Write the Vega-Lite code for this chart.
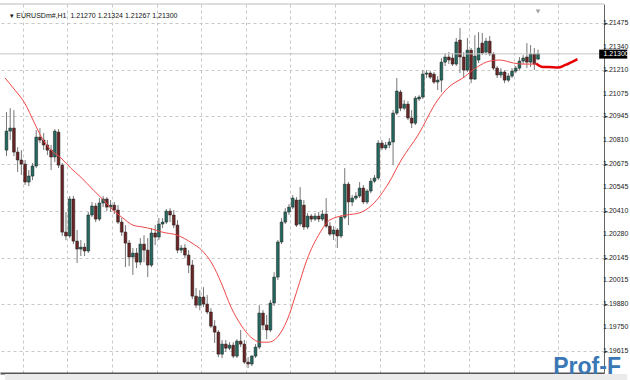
{
"$schema": "https://vega.github.io/schema/vega-lite/v6.json",
"width": 604, "height": 369,
"autosize": {"type": "none"},
"padding": {"top": 4, "left": 0, "right": 26, "bottom": 7},
"background": "#ffffff",
"config": {"view": {"stroke": null}, "font": "Liberation Sans"},
"datasets": {
"candles": [
{"t":0,"o":1.20754,"h":1.20970,"l":1.20720,"c":1.20862},
{"t":1,"o":1.20862,"h":1.20992,"l":1.20811,"c":1.20879},
{"t":2,"o":1.20879,"h":1.20981,"l":1.20720,"c":1.20743},
{"t":3,"o":1.20743,"h":1.20771,"l":1.20630,"c":1.20698},
{"t":4,"o":1.20698,"h":1.20754,"l":1.20613,"c":1.20675},
{"t":5,"o":1.20675,"h":1.20698,"l":1.20556,"c":1.20573},
{"t":6,"o":1.20573,"h":1.20641,"l":1.20550,"c":1.20607},
{"t":7,"o":1.20607,"h":1.20681,"l":1.20584,"c":1.20664},
{"t":8,"o":1.20664,"h":1.20868,"l":1.20652,"c":1.20828},
{"t":9,"o":1.20828,"h":1.20879,"l":1.20794,"c":1.20811},
{"t":10,"o":1.20811,"h":1.20851,"l":1.20754,"c":1.20783},
{"t":11,"o":1.20783,"h":1.20811,"l":1.20726,"c":1.20754},
{"t":12,"o":1.20754,"h":1.20783,"l":1.20641,"c":1.20715},
{"t":13,"o":1.20715,"h":1.20873,"l":1.20686,"c":1.20862},
{"t":14,"o":1.20856,"h":1.20873,"l":1.20652,"c":1.20669},
{"t":15,"o":1.20669,"h":1.20681,"l":1.20267,"c":1.20289},
{"t":16,"o":1.20289,"h":1.20403,"l":1.20244,"c":1.20267},
{"t":17,"o":1.20267,"h":1.20494,"l":1.20255,"c":1.20477},
{"t":18,"o":1.20477,"h":1.20494,"l":1.20221,"c":1.20238},
{"t":19,"o":1.20238,"h":1.20301,"l":1.20114,"c":1.20193},
{"t":20,"o":1.20193,"h":1.20244,"l":1.20153,"c":1.20204},
{"t":21,"o":1.20204,"h":1.20227,"l":1.20153,"c":1.20182},
{"t":22,"o":1.20182,"h":1.20403,"l":1.20170,"c":1.20386},
{"t":23,"o":1.20386,"h":1.20460,"l":1.20374,"c":1.20437},
{"t":24,"o":1.20437,"h":1.20454,"l":1.20346,"c":1.20363},
{"t":25,"o":1.20363,"h":1.20482,"l":1.20352,"c":1.20454},
{"t":26,"o":1.20454,"h":1.20494,"l":1.20431,"c":1.20477},
{"t":27,"o":1.20477,"h":1.20488,"l":1.20408,"c":1.20431},
{"t":28,"o":1.20431,"h":1.20471,"l":1.20403,"c":1.20442},
{"t":29,"o":1.20442,"h":1.20460,"l":1.20391,"c":1.20414},
{"t":30,"o":1.20414,"h":1.20442,"l":1.20335,"c":1.20346},
{"t":31,"o":1.20346,"h":1.20369,"l":1.20267,"c":1.20289},
{"t":32,"o":1.20289,"h":1.20329,"l":1.20091,"c":1.20227},
{"t":33,"o":1.20227,"h":1.20244,"l":1.20096,"c":1.20148},
{"t":34,"o":1.20148,"h":1.20199,"l":1.20046,"c":1.20170},
{"t":35,"o":1.20170,"h":1.20199,"l":1.20085,"c":1.20119},
{"t":36,"o":1.20119,"h":1.20255,"l":1.20102,"c":1.20221},
{"t":37,"o":1.20221,"h":1.20272,"l":1.20119,"c":1.20187},
{"t":38,"o":1.20187,"h":1.20255,"l":1.20034,"c":1.20102},
{"t":39,"o":1.20102,"h":1.20312,"l":1.20091,"c":1.20284},
{"t":40,"o":1.20284,"h":1.20329,"l":1.20216,"c":1.20261},
{"t":41,"o":1.20261,"h":1.20369,"l":1.20244,"c":1.20335},
{"t":42,"o":1.20335,"h":1.20369,"l":1.20312,"c":1.20346},
{"t":43,"o":1.20346,"h":1.20420,"l":1.20335,"c":1.20408},
{"t":44,"o":1.20408,"h":1.20425,"l":1.20346,"c":1.20386},
{"t":45,"o":1.20386,"h":1.20414,"l":1.20312,"c":1.20329},
{"t":46,"o":1.20329,"h":1.20357,"l":1.20170,"c":1.20187},
{"t":47,"o":1.20187,"h":1.20216,"l":1.20170,"c":1.20199},
{"t":48,"o":1.20199,"h":1.20221,"l":1.20142,"c":1.20159},
{"t":49,"o":1.20159,"h":1.20187,"l":1.20057,"c":1.20102},
{"t":50,"o":1.20102,"h":1.20131,"l":1.19909,"c":1.19926},
{"t":51,"o":1.19926,"h":1.19972,"l":1.19858,"c":1.19875},
{"t":52,"o":1.19875,"h":1.19960,"l":1.19847,"c":1.19921},
{"t":53,"o":1.19921,"h":1.19977,"l":1.19864,"c":1.19881},
{"t":54,"o":1.19881,"h":1.19932,"l":1.19824,"c":1.19836},
{"t":55,"o":1.19836,"h":1.19858,"l":1.19745,"c":1.19756},
{"t":56,"o":1.19756,"h":1.19790,"l":1.19660,"c":1.19722},
{"t":57,"o":1.19722,"h":1.19734,"l":1.19580,"c":1.19597},
{"t":58,"o":1.19597,"h":1.19677,"l":1.19575,"c":1.19654},
{"t":59,"o":1.19654,"h":1.19677,"l":1.19609,"c":1.19631},
{"t":60,"o":1.19631,"h":1.19665,"l":1.19620,"c":1.19648},
{"t":61,"o":1.19648,"h":1.19665,"l":1.19575,"c":1.19586},
{"t":62,"o":1.19586,"h":1.19682,"l":1.19575,"c":1.19671},
{"t":63,"o":1.19671,"h":1.19734,"l":1.19637,"c":1.19654},
{"t":64,"o":1.19654,"h":1.19677,"l":1.19541,"c":1.19552},
{"t":65,"o":1.19552,"h":1.19580,"l":1.19518,"c":1.19541},
{"t":66,"o":1.19541,"h":1.19592,"l":1.19529,"c":1.19586},
{"t":67,"o":1.19586,"h":1.19654,"l":1.19575,"c":1.19637},
{"t":68,"o":1.19637,"h":1.19875,"l":1.19626,"c":1.19830},
{"t":69,"o":1.19830,"h":1.19847,"l":1.19734,"c":1.19762},
{"t":70,"o":1.19762,"h":1.19819,"l":1.19682,"c":1.19734},
{"t":71,"o":1.19734,"h":1.19904,"l":1.19722,"c":1.19887},
{"t":72,"o":1.19887,"h":1.20062,"l":1.19870,"c":1.20034},
{"t":73,"o":1.20034,"h":1.20244,"l":1.20017,"c":1.20233},
{"t":74,"o":1.20233,"h":1.20369,"l":1.20221,"c":1.20346},
{"t":75,"o":1.20346,"h":1.20425,"l":1.20335,"c":1.20403},
{"t":76,"o":1.20403,"h":1.20448,"l":1.20386,"c":1.20431},
{"t":77,"o":1.20431,"h":1.20499,"l":1.20420,"c":1.20482},
{"t":78,"o":1.20471,"h":1.20488,"l":1.20318,"c":1.20329},
{"t":79,"o":1.20335,"h":1.20544,"l":1.20323,"c":1.20471},
{"t":80,"o":1.20442,"h":1.20471,"l":1.20301,"c":1.20318},
{"t":81,"o":1.20318,"h":1.20397,"l":1.20306,"c":1.20380},
{"t":82,"o":1.20380,"h":1.20391,"l":1.20346,"c":1.20363},
{"t":83,"o":1.20363,"h":1.20397,"l":1.20352,"c":1.20380},
{"t":84,"o":1.20380,"h":1.20403,"l":1.20346,"c":1.20363},
{"t":85,"o":1.20363,"h":1.20414,"l":1.20352,"c":1.20391},
{"t":86,"o":1.20391,"h":1.20482,"l":1.20312,"c":1.20323},
{"t":87,"o":1.20323,"h":1.20346,"l":1.20267,"c":1.20278},
{"t":88,"o":1.20278,"h":1.20323,"l":1.20244,"c":1.20301},
{"t":89,"o":1.20301,"h":1.20312,"l":1.20199,"c":1.20267},
{"t":90,"o":1.20267,"h":1.20386,"l":1.20255,"c":1.20374},
{"t":91,"o":1.20374,"h":1.20652,"l":1.20363,"c":1.20561},
{"t":92,"o":1.20561,"h":1.20573,"l":1.20329,"c":1.20460},
{"t":93,"o":1.20460,"h":1.20499,"l":1.20437,"c":1.20482},
{"t":94,"o":1.20482,"h":1.20516,"l":1.20471,"c":1.20494},
{"t":95,"o":1.20494,"h":1.20573,"l":1.20482,"c":1.20539},
{"t":96,"o":1.20539,"h":1.20556,"l":1.20448,"c":1.20460},
{"t":97,"o":1.20460,"h":1.20533,"l":1.20448,"c":1.20522},
{"t":98,"o":1.20522,"h":1.20596,"l":1.20510,"c":1.20578},
{"t":99,"o":1.20578,"h":1.20613,"l":1.20567,"c":1.20596},
{"t":100,"o":1.20596,"h":1.20811,"l":1.20584,"c":1.20794},
{"t":101,"o":1.20794,"h":1.20811,"l":1.20754,"c":1.20766},
{"t":102,"o":1.20766,"h":1.20800,"l":1.20754,"c":1.20783},
{"t":103,"o":1.20783,"h":1.20822,"l":1.20766,"c":1.20800},
{"t":104,"o":1.20800,"h":1.20981,"l":1.20669,"c":1.20964},
{"t":105,"o":1.20964,"h":1.21163,"l":1.20953,"c":1.21089},
{"t":106,"o":1.21083,"h":1.21095,"l":1.20975,"c":1.20992},
{"t":107,"o":1.20992,"h":1.21038,"l":1.20981,"c":1.21015},
{"t":108,"o":1.21015,"h":1.21032,"l":1.20924,"c":1.20936},
{"t":109,"o":1.20936,"h":1.20981,"l":1.20879,"c":1.20907},
{"t":110,"o":1.20907,"h":1.21061,"l":1.20896,"c":1.21049},
{"t":111,"o":1.21044,"h":1.21066,"l":1.21032,"c":1.21055},
{"t":112,"o":1.21055,"h":1.21208,"l":1.21044,"c":1.21185},
{"t":113,"o":1.21185,"h":1.21208,"l":1.21163,"c":1.21191},
{"t":114,"o":1.21191,"h":1.21202,"l":1.21157,"c":1.21168},
{"t":115,"o":1.21185,"h":1.21197,"l":1.21129,"c":1.21140},
{"t":116,"o":1.21140,"h":1.21174,"l":1.21095,"c":1.21151},
{"t":117,"o":1.21151,"h":1.21276,"l":1.21083,"c":1.21253},
{"t":118,"o":1.21253,"h":1.21304,"l":1.21231,"c":1.21282},
{"t":119,"o":1.21282,"h":1.21310,"l":1.21242,"c":1.21265},
{"t":120,"o":1.21276,"h":1.21304,"l":1.21231,"c":1.21242},
{"t":121,"o":1.21242,"h":1.21390,"l":1.21231,"c":1.21367},
{"t":122,"o":1.21378,"h":1.21446,"l":1.21191,"c":1.21282},
{"t":123,"o":1.21282,"h":1.21310,"l":1.21163,"c":1.21208},
{"t":124,"o":1.21208,"h":1.21390,"l":1.21197,"c":1.21321},
{"t":125,"o":1.21321,"h":1.21333,"l":1.21134,"c":1.21157},
{"t":126,"o":1.21157,"h":1.21406,"l":1.21151,"c":1.21287},
{"t":127,"o":1.21265,"h":1.21423,"l":1.21248,"c":1.21333},
{"t":128,"o":1.21361,"h":1.21418,"l":1.21293,"c":1.21304},
{"t":129,"o":1.21310,"h":1.21390,"l":1.21293,"c":1.21372},
{"t":130,"o":1.21372,"h":1.21401,"l":1.21287,"c":1.21299},
{"t":131,"o":1.21299,"h":1.21310,"l":1.21208,"c":1.21219},
{"t":132,"o":1.21219,"h":1.21231,"l":1.21163,"c":1.21180},
{"t":133,"o":1.21180,"h":1.21219,"l":1.21163,"c":1.21197},
{"t":134,"o":1.21197,"h":1.21208,"l":1.21134,"c":1.21151},
{"t":135,"o":1.21151,"h":1.21191,"l":1.21140,"c":1.21174},
{"t":136,"o":1.21174,"h":1.21219,"l":1.21163,"c":1.21202},
{"t":137,"o":1.21202,"h":1.21231,"l":1.21191,"c":1.21219},
{"t":138,"o":1.21219,"h":1.21282,"l":1.21208,"c":1.21259},
{"t":139,"o":1.21259,"h":1.21293,"l":1.21242,"c":1.21276},
{"t":140,"o":1.21282,"h":1.21361,"l":1.21219,"c":1.21253},
{"t":141,"o":1.21253,"h":1.21350,"l":1.21225,"c":1.21299},
{"t":142,"o":1.21299,"h":1.21333,"l":1.21208,"c":1.21242},
{"t":143,"o":1.21270,"h":1.21324,"l":1.21267,"c":1.21300}
],
"ma": [
{"t":-0.4,"v":1.21163},{"t":2.25,"v":1.21095},{"t":4.9,"v":1.21021},{"t":7.54,"v":1.20907},
{"t":9.4,"v":1.20828},{"t":12.0,"v":1.20754},{"t":14.7,"v":1.20709},{"t":17.3,"v":1.20652},
{"t":20.0,"v":1.20601},{"t":23.4,"v":1.20527},{"t":26.1,"v":1.20471},{"t":28.7,"v":1.20414},
{"t":31.3,"v":1.20369},{"t":34.0,"v":1.20329},{"t":36.6,"v":1.20318},{"t":39.3,"v":1.20306},
{"t":41.9,"v":1.20289},{"t":45.9,"v":1.20272},{"t":49.9,"v":1.20227},{"t":52.5,"v":1.20187},
{"t":55.2,"v":1.20114},{"t":57.8,"v":1.20000},{"t":60.4,"v":1.19864},{"t":63.1,"v":1.19762},
{"t":65.7,"v":1.19694},{"t":68.4,"v":1.19665},{"t":70.5,"v":1.19665},{"t":72.9,"v":1.19694},
{"t":75.5,"v":1.19790},{"t":78.2,"v":1.19960},{"t":80.8,"v":1.20131},{"t":84.3,"v":1.20284},
{"t":86.9,"v":1.20357},{"t":91.4,"v":1.20386},{"t":94.8,"v":1.20397},{"t":98.3,"v":1.20442},
{"t":102.8,"v":1.20567},{"t":106.2,"v":1.20698},{"t":110.7,"v":1.20839},{"t":116.0,"v":1.21038},
{"t":118.7,"v":1.21106},{"t":123.1,"v":1.21168},{"t":126.6,"v":1.21225},{"t":130.0,"v":1.21259},
{"t":132.7,"v":1.21265},{"t":136.4,"v":1.21248},{"t":139.0,"v":1.21242},{"t":142.5,"v":1.21242}
],
"maf": [
{"t":142.5,"v":1.21245},{"t":144.3,"v":1.21225},{"t":145.9,"v":1.21225},{"t":148.3,"v":1.21222},
{"t":150.4,"v":1.21237},{"t":153.6,"v":1.21270}
],
"ticks": [
{"p":1.21475,"lab":"1.21475"},{"p":1.21340,"lab":"1.21340"},{"p":1.21210,"lab":"1.21210"},
{"p":1.21075,"lab":"1.21075"},{"p":1.20945,"lab":"1.20945"},{"p":1.20810,"lab":"1.20810"},
{"p":1.20675,"lab":"1.20675"},{"p":1.20545,"lab":"1.20545"},{"p":1.20410,"lab":"1.20410"},
{"p":1.20280,"lab":"1.20280"},{"p":1.20145,"lab":"1.20145"},{"p":1.20015,"lab":"1.20015"},
{"p":1.19880,"lab":"1.19880"},{"p":1.19750,"lab":"1.19750"},{"p":1.19615,"lab":"1.19615"}
],
"info": [
{"sym":"▾ EURUSDm#,H1\u00a0 1.21270 1.21324 1.21267 1.21300","last":"1.21300","mark":"Prof-F"}
]
},
"layer": [
{
"data": {"name": "candles"},
"mark": {"type": "rule", "color": "#777777", "strokeWidth": 1},
"encoding": {
"x": {"field": "t", "type": "quantitative", "title": null,
"scale": {"domain": [-0.4, 159.4], "nice": false, "zero": false},
"axis": {"title": null, "orient": "bottom", "labels": false, "ticks": false,
"domain": true, "domainColor": "#555555", "domainWidth": 2,
"grid": true, "gridColor": "#c8c8c8", "gridDash": [3, 3], "gridWidth": 1,
"values": [4.4,10.4,16.4,22.4,28.4,34.4,40.4,46.4,52.4,58.4,64.4,70.4,76.4,82.4,88.4,94.4,100.4,106.4,112.4,118.4,124.4,130.4,136.4,142.4,148.4,154.4]}},
"y": {"field": "l", "type": "quantitative", "title": null,
"scale": {"domain": [1.194902, 1.215827], "nice": false, "zero": false},
"axis": {"title": null, "orient": "right", "labels": false,
"values": [1.19615,1.19750,1.19880,1.20015,1.20145,1.20280,1.20410,1.20545,1.20675,1.20810,1.20945,1.21075,1.21210,1.21340,1.21475],
"tickSize": 3, "tickColor": "#444444",
"domain": true, "domainColor": "#666666", "domainWidth": 1,
"grid": true, "gridColor": "#c8c8c8", "gridDash": [3, 3], "gridWidth": 1}},
"y2": {"field": "h"}
}
},
{
"data": {"name": "candles"},
"mark": {"type": "bar", "size": 2.8, "stroke": "#1e1e1e", "strokeWidth": 0.5},
"encoding": {
"x": {"field": "t", "type": "quantitative", "title": null},
"y": {"field": "o", "type": "quantitative", "title": null},
"y2": {"field": "c"},
"color": {"condition": {"test": "datum.c >= datum.o", "value": "#23695f"}, "value": "#6b2424"}
}
},
{
"data": {"name": "ma"},
"mark": {"type": "line", "color": "#f04848", "strokeWidth": 1, "interpolate": "monotone"},
"encoding": {
"x": {"field": "t", "type": "quantitative", "title": null},
"y": {"field": "v", "type": "quantitative", "title": null}
}
},
{
"data": {"name": "maf"},
"mark": {"type": "line", "color": "#e60000", "strokeWidth": 2.5, "interpolate": "monotone"},
"encoding": {
"x": {"field": "t", "type": "quantitative", "title": null},
"y": {"field": "v", "type": "quantitative", "title": null}
}
},
{
"data": {"name": "ticks"},
"mark": {"type": "text", "align": "left", "baseline": "middle", "font": "Liberation Sans", "fontSize": 7, "color": "#222222"},
"encoding": {
"x": {"datum": 160.5, "type": "quantitative", "title": null},
"y": {"field": "p", "type": "quantitative", "title": null},
"text": {"field": "lab"}
}
},
{
"data": {"name": "info"},
"mark": {"type": "rect", "color": "#ebebeb"},
"encoding": {
"x": {"datum": -0.4, "type": "quantitative", "title": null},
"x2": {"datum": 167},
"y": {"datum": 1.19484, "type": "quantitative", "title": null},
"y2": {"datum": 1.19430}
}
},
{
"data": {"name": "info"},
"mark": {"type": "rule", "color": "#bbbbbb", "strokeWidth": 1},
"encoding": {"y": {"datum": 1.215827, "type": "quantitative", "title": null}}
},
{
"data": {"name": "info"},
"mark": {"type": "rule", "color": "#c4c4c4", "strokeWidth": 1},
"encoding": {"y": {"datum": 1.21300, "type": "quantitative", "title": null}}
},
{
"data": {"name": "info"},
"mark": {"type": "text", "align": "left", "baseline": "middle", "font": "Liberation Sans", "fontSize": 7, "color": "#111111"},
"encoding": {
"x": {"datum": 1.05, "type": "quantitative", "title": null},
"y": {"datum": 1.21514, "type": "quantitative", "title": null},
"text": {"field": "sym"}
}
},
{
"data": {"name": "info"},
"mark": {"type": "rect", "color": "#000000"},
"encoding": {
"x": {"datum": 159.45, "type": "quantitative", "title": null},
"x2": {"datum": 167},
"y": {"datum": 1.21324, "type": "quantitative", "title": null},
"y2": {"datum": 1.21273}
}
},
{
"data": {"name": "info"},
"mark": {"type": "text", "align": "left", "baseline": "middle", "font": "Liberation Sans", "fontSize": 7, "color": "#ffffff"},
"encoding": {
"x": {"datum": 160.6, "type": "quantitative", "title": null},
"y": {"datum": 1.21299, "type": "quantitative", "title": null},
"text": {"field": "last"}
}
},
{
"data": {"name": "info"},
"mark": {"type": "point", "shape": "triangle-down", "filled": true, "color": "#a0a0a0", "size": 22, "opacity": 1},
"encoding": {
"x": {"datum": 143, "type": "quantitative", "title": null},
"y": {"datum": 1.21540, "type": "quantitative", "title": null}
}
},
{
"data": {"name": "info"},
"mark": {"type": "text", "align": "left", "baseline": "alphabetic", "font": "Liberation Sans", "fontWeight": "bold", "fontSize": 23, "color": "#3a78b5"},
"encoding": {
"x": {"datum": 147.1, "type": "quantitative", "title": null},
"y": {"datum": 1.19484, "type": "quantitative", "title": null},
"text": {"field": "mark"}
}
}
]
}
